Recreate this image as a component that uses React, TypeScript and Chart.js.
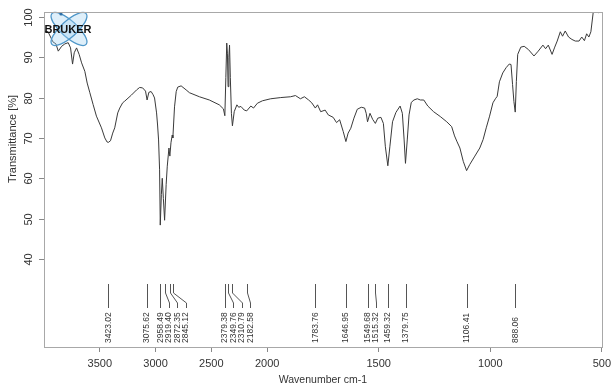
import React, { useEffect, useRef } from "react";
import { Chart, LineController, LineElement, PointElement, LinearScale } from "chart.js";

// ---- Data (wavenumber in cm-1, transmittance in %) ----
const wavenumbers: number[] = [
  4000, 3964, 3920, 3893, 3872, 3842, 3813, 3783, 3762, 3744, 3729, 3708, 3685, 3663, 3634, 3613,
  3589, 3560, 3530, 3485, 3455, 3435, 3423, 3404, 3384, 3366, 3339, 3321, 3295, 3277, 3217, 3170,
  3143, 3116, 3090, 3076, 3060, 3040, 3022, 3009, 2991, 2982, 2973, 2964, 2958, 2948, 2940, 2930,
  2919, 2905, 2895, 2880, 2872, 2862, 2851, 2845, 2830, 2815, 2801, 2771, 2726, 2696, 2607, 2518,
  2429, 2392, 2379, 2370, 2362, 2356, 2350, 2343, 2337, 2330, 2320, 2311, 2295, 2271, 2255, 2235,
  2205, 2183, 2146, 2122, 2087, 2042, 1984, 1939, 1895, 1873, 1851, 1833, 1814, 1800, 1784, 1774,
  1760, 1740, 1726, 1704, 1689, 1675, 1659, 1647, 1637, 1625, 1611, 1596, 1578, 1563, 1556, 1550,
  1539, 1527, 1515, 1504, 1490, 1479, 1470, 1459, 1450, 1438, 1423, 1416, 1404, 1394, 1386, 1380,
  1372, 1364, 1354, 1342, 1327, 1313, 1298, 1280, 1254, 1224, 1195, 1173, 1160, 1150, 1136, 1121,
  1106, 1092, 1069, 1047, 1032, 1018, 1003, 988, 977, 969, 959, 944, 929, 915, 907, 900,
  894, 888, 883, 877, 863, 848, 829, 804, 785, 764, 752, 740, 723, 711, 700, 686,
  676, 664, 649, 634, 619, 602, 590, 578, 568, 558, 549, 538, 528, 516, 504,
];
const transmittance: number[] = [
  96.5, 96.3, 93.8, 93.3, 91.5, 92.7, 93.3, 93.6, 92.3, 88.3, 91.1, 92.3, 90.7, 88.6, 86.5, 83.6,
  81.2, 78.3, 75.4, 72.5, 70.0, 69.0, 68.9, 69.3, 71.2, 72.5, 76.2, 77.4, 78.7, 79.1, 80.6, 81.9,
  82.5, 82.4, 81.6, 79.4, 81.3, 81.5, 80.7, 79.9, 76.2, 73.2, 69.5, 62.1, 48.4, 56.0, 60.0, 55.0,
  49.6, 58.5, 63.0, 67.5, 65.5, 68.8, 70.7, 70.0, 77.7, 81.5, 82.6, 82.9, 81.9, 81.2, 80.2, 79.4,
  78.2, 77.2, 75.5, 85.0, 93.5, 91.0, 82.7, 90.0, 93.0, 85.0, 76.0, 73.0, 76.5, 78.2, 77.6, 77.8,
  76.9, 76.7, 77.9, 77.4, 78.6, 79.2, 79.7, 80.0, 80.2, 80.5, 79.7, 80.2, 79.4, 78.7, 77.4, 78.2,
  76.5, 76.9, 75.7, 75.1, 73.8, 74.5, 71.6, 69.1, 71.2, 72.4, 74.9, 77.1, 77.6, 77.4, 76.1, 74.0,
  76.1, 74.6, 73.6, 74.9, 75.1, 73.6, 67.8, 63.1, 67.8, 74.0, 76.3, 76.9, 77.9, 76.1, 69.5, 63.7,
  69.5, 75.7, 78.8, 79.4, 79.7, 79.4, 79.4, 77.9, 76.5, 75.3, 74.0, 72.8, 70.5, 69.2, 67.5, 64.2,
  61.9, 63.4, 65.5, 67.5, 69.6, 72.5, 75.4, 78.7, 79.7, 80.3, 83.9, 86.1, 87.4, 88.3, 88.2, 83.2,
  79.0, 76.4, 84.0, 90.7, 92.5, 92.7, 91.9, 90.3, 91.5, 93.0, 92.1, 93.0, 90.7, 92.5, 94.0, 96.3,
  95.2, 96.5, 95.0, 94.4, 94.0, 94.0, 95.0, 94.1, 95.8, 95.0, 96.3, 101.4, 101.4, 101.0, 101.8,
];
const peakWavenumbers: number[] = [
  3423.02, 3075.62, 2958.49, 2919.4, 2872.35, 2845.12, 2379.38, 2349.76, 2310.79, 2182.58,
  1783.76, 1646.95, 1549.68, 1515.32, 1459.32, 1379.75, 1106.41, 888.06,
];
const xTickValues: number[] = [3500, 3000, 2500, 2000, 1500, 1000, 500];
const yTickValues: number[] = [40, 50, 60, 70, 80, 90, 100];

const X_TITLE = "Wavenumber cm-1";
const Y_TITLE = "Transmittance [%]";
const FONT = "'Liberation Sans', Arial, sans-serif";

// ---- Split (two-scale) wavenumber axis: above 2000 cm-1 compressed by 2 ----
const SPLIT = 2000;
const fwd = (w: number) => (w <= SPLIT ? w : SPLIT + (w - SPLIT) / 2);
const inv = (u: number) => (u <= SPLIT ? u : SPLIT + (u - SPLIT) * 2);

class SplitScale extends LinearScale {
  getPixelForValue(v: any) {
    if (v === null || v === undefined || isNaN(v)) return NaN;
    const a = fwd(this.min);
    const b = fwd(this.max);
    return this.getPixelForDecimal((fwd(v) - a) / (b - a));
  }
  getValueForPixel(p: number) {
    const a = fwd(this.min);
    const b = fwd(this.max);
    return inv(a + this.getDecimalForPixel(p) * (b - a));
  }
}
(SplitScale as any).id = "split";
(SplitScale as any).defaults = (LinearScale as any).defaults;

Chart.register(LineController, LineElement, PointElement, LinearScale, SplitScale as any);

const decorPlugin = {
  id: "decor",
  afterDatasetsDraw(chart: any) {
    const ctx = chart.ctx as CanvasRenderingContext2D;
    const { left, right, top, bottom } = chart.chartArea;
    const xs = chart.scales.x;
    const ys = chart.scales.y;
    ctx.save();

    // Bruker logo
    const cx = left + 25;
    const cy = top + 17;
    ctx.lineWidth = 1.3;
    ctx.strokeStyle = "#4f97c9";
    ctx.fillStyle = "rgba(160,210,240,0.35)";
    [Math.PI / 4.3, -Math.PI / 4.3].forEach((ang) => {
      ctx.beginPath();
      ctx.ellipse(cx, cy, 23, 8, ang, 0, Math.PI * 2);
      ctx.fill();
      ctx.stroke();
    });
    ctx.fillStyle = "#2f6fa6";
    ctx.beginPath();
    ctx.arc(cx - 8, top + 2, 1.6, 0, Math.PI * 2);
    ctx.fill();
    ctx.beginPath();
    ctx.arc(cx + 1, cy + 3, 1.4, 0, Math.PI * 2);
    ctx.fill();
    ctx.fillStyle = "#111";
    ctx.font = `bold 11px ${FONT}`;
    ctx.textAlign = "center";
    ctx.textBaseline = "middle";
    ctx.fillText("BRUKER", cx - 1, cy + 0.5);
    ctx.restore();

    ctx.save();
    // Box
    ctx.strokeStyle = "#a8a8a8";
    ctx.lineWidth = 1;
    ctx.strokeRect(Math.round(left) + 0.5, Math.round(top) + 0.5, Math.round(right - left), Math.round(bottom - top));

    // Y ticks and labels
    ctx.strokeStyle = "#888";
    ctx.fillStyle = "#333";
    ctx.font = `11px ${FONT}`;
    ctx.textAlign = "center";
    ctx.textBaseline = "middle";
    yTickValues.forEach((v) => {
      const y = Math.round(ys.getPixelForValue(v)) + 0.5;
      ctx.beginPath();
      ctx.moveTo(left - 5, y);
      ctx.lineTo(left, y);
      ctx.stroke();
      ctx.save();
      ctx.translate(left - 15, y);
      ctx.rotate(-Math.PI / 2);
      ctx.fillText(String(v), 0, 0);
      ctx.restore();
    });

    // Axis titles
    ctx.save();
    ctx.translate(13, 139);
    ctx.rotate(-Math.PI / 2);
    ctx.fillText(Y_TITLE, 0, 0);
    ctx.restore();
    ctx.font = `10.5px ${FONT}`;
    ctx.fillText(X_TITLE, (left + right) / 2, 380);

    // Peak markers
    const pts = peakWavenumbers
      .map((w) => ({ w, px: xs.getPixelForValue(w) }))
      .sort((a, b) => a.px - b.px);
    let prev = -Infinity;
    ctx.strokeStyle = "#555";
    ctx.font = `8.5px ${FONT}`;
    ctx.textAlign = "left";
    pts.forEach((p) => {
      const lx = Math.max(p.px, prev + 8.5);
      prev = lx;
      const px = Math.round(p.px) + 0.5;
      const lxx = Math.round(lx) + 0.5;
      ctx.beginPath();
      ctx.moveTo(px, bottom - 63);
      ctx.lineTo(px, bottom - 54);
      ctx.lineTo(lxx, bottom - 44);
      ctx.lineTo(lxx, bottom - 39);
      ctx.stroke();
      ctx.save();
      ctx.translate(lx, bottom - 4);
      ctx.rotate(-Math.PI / 2);
      ctx.fillText(p.w.toFixed(2), 0, 0);
      ctx.restore();
    });
    ctx.restore();
  },
};

export default function App() {
  const ref = useRef<HTMLCanvasElement | null>(null);
  useEffect(() => {
    if (!ref.current) return;
    const chart = new Chart(ref.current, {
      type: "line",
      data: {
        datasets: [
          {
            data: wavenumbers.map((w, i) => ({ x: w, y: transmittance[i] })),
            borderColor: "#3a3a3a",
            borderWidth: 1,
            pointRadius: 0,
            tension: 0,
            fill: false,
          },
        ],
      },
      options: {
        responsive: false,
        animation: false,
        events: [],
        layout: { padding: { top: 12, right: 10, left: 0, bottom: 0 } },
        plugins: { legend: { display: false }, tooltip: { enabled: false } } as any,
        scales: {
          x: {
            type: "split" as any,
            reverse: true,
            min: 500,
            max: 4000,
            bounds: "data",
            afterBuildTicks: (s: any) => {
              s.ticks = xTickValues.map((v) => ({ value: v }));
            },
            afterFit: (s: any) => {
              s.height = 38;
            },
            grid: { display: true, drawOnChartArea: false, drawTicks: true, tickLength: 5, color: "#888" },
            border: { display: false },
            ticks: {
              autoSkip: false,
              maxRotation: 0,
              minRotation: 0,
              padding: 5,
              color: "#333",
              font: { size: 11, family: FONT },
              callback: (v: any) => String(v),
            },
          } as any,
          y: {
            type: "linear",
            min: 18.2,
            max: 101.2,
            bounds: "data",
            afterBuildTicks: (s: any) => {
              s.ticks = yTickValues.map((v) => ({ value: v }));
            },
            afterFit: (s: any) => {
              s.width = 44;
            },
            grid: { display: false },
            border: { display: false },
            ticks: { display: false },
          } as any,
        },
      },
      plugins: [decorPlugin],
    });
    return () => chart.destroy();
  }, []);
  return (
    <div style={{ position: "fixed", left: 0, top: 0, width: 616, height: 385, background: "#fff" }}>
      <canvas ref={ref} width={616} height={385} />
    </div>
  );
}
